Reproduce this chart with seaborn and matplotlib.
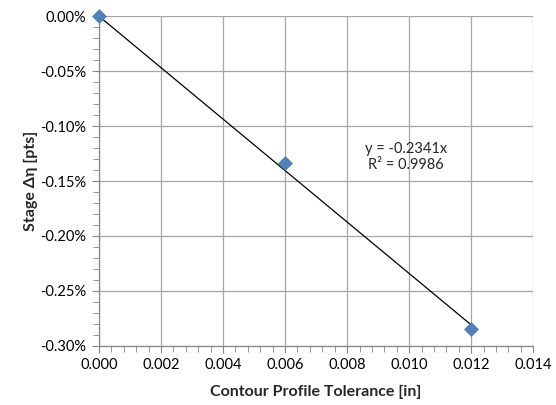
import numpy as np
import pandas as pd
import seaborn as sns
import matplotlib.pyplot as plt
from matplotlib.ticker import MultipleLocator, FuncFormatter

# data
tolerance = [0.000, 0.006, 0.012]
delta_eta = [0.0, -0.00134, -0.00285]
slope = -0.2341
r2 = 0.9986
fit_x = [0.0, 0.012]

df = pd.DataFrame({'tol': tolerance, 'eta': delta_eta})
fit = pd.DataFrame({'tol': fit_x, 'eta': [slope * v for v in fit_x]})

sns.set_style('white')
plt.rcParams['font.family'] = ['Lato', 'DejaVu Sans']

fig = plt.figure(figsize=(5.56, 4.05), dpi=100)
ax = fig.add_axes([0.178, 0.146, 0.781, 0.814])

sns.lineplot(data=fit, x='tol', y='eta', color='black', linewidth=0.9, ax=ax, zorder=3)
sns.scatterplot(data=df, x='tol', y='eta', marker='D', s=50, color='#4f81bd',
                edgecolor='#4f81bd', linewidth=0.5, ax=ax, zorder=4, clip_on=False)

ax.set_xlim(0, 0.014)
ax.set_ylim(-0.003, 0)
ax.xaxis.set_major_locator(MultipleLocator(0.002))
ax.xaxis.set_minor_locator(MultipleLocator(0.0004))
ax.yaxis.set_major_locator(MultipleLocator(0.0005))
ax.yaxis.set_minor_locator(MultipleLocator(0.0001))
ax.xaxis.set_major_formatter(FuncFormatter(lambda v, p: f'{v:.3f}'))
ax.yaxis.set_major_formatter(FuncFormatter(lambda v, p: f'{v*100:.2f}%'.replace('-0.00%', '0.00%')))

ax.grid(True, which='major', color='#a6a6a6', linewidth=0.9)
for s in ['top', 'right']:
    ax.spines[s].set_visible(False)
for s in ['left', 'bottom']:
    ax.spines[s].set_color('#868686')
    ax.spines[s].set_linewidth(0.9)

ax.tick_params(which='both', direction='out', color='#868686', labelsize=10.5,
               labelcolor='black', left=True, bottom=True)
ax.tick_params(which='major', length=5, pad=4)
ax.tick_params(which='minor', length=4)

ax.set_xlabel('Contour Profile Tolerance [in]', fontsize=11.5, fontweight='bold', labelpad=9)
ax.set_ylabel('Stage Δη [pts]', fontsize=11.5, fontweight='bold', labelpad=2)

ax.text(0.0099, -0.00128, f'y = {slope}x\nR² = {r2}', fontsize=10.5,
        ha='center', va='center', linespacing=1.2)

fig.savefig('out.png', dpi=100)
